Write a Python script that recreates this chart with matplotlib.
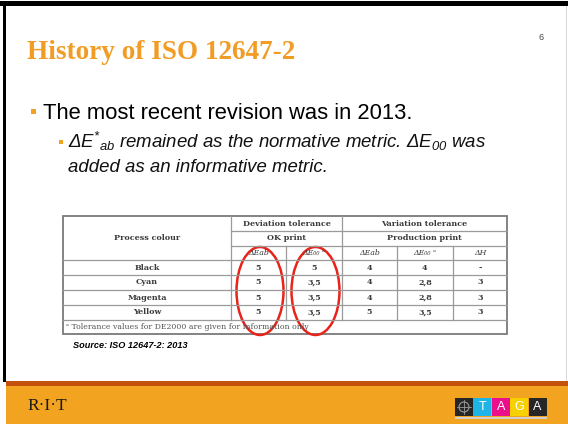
import matplotlib
matplotlib.use('Agg')
import matplotlib.pyplot as plt
from matplotlib.patches import Rectangle, Ellipse, Circle

# --- SLIDE CONTENT ---
TITLE = 'History of ISO 12647-2'
PAGE_NO = '6'
BULLET_MAIN = 'The most recent revision was in 2013.'
BULLET_SUB = [r'Δ$E{}^{*}{}_{ab}$ remained as the normative metric. Δ$E_{\mathit{00}}$ was',
              'added as an informative metric.']
SOURCE = 'Source: ISO 12647-2: 2013'

# --- TABLE DATA ---
process_colours = ['Black', 'Cyan', 'Magenta', 'Yellow']
dev_dEab = ['5', '5', '5', '5']
dev_dE00 = ['5', '3,5', '3,5', '3,5']
var_dEab = ['4', '4', '4', '5']
var_dE00 = ['4', '2,8', '2,8', '3,5']
var_dH = ['-', '3', '3', '3']
sub_headers = ['ΔEab', 'ΔE₀₀ ᵃ', 'ΔEab', 'ΔE₀₀ ᵃ', 'ΔH']
FOOTNOTE = 'ᵃ Tolerance values for DE2000 are given for information only'

ORANGE = '#f2a31f'
TITLE_ORANGE = '#f29c26'
DARK_ORANGE = '#c4520c'

plt.rcParams['mathtext.fontset'] = 'custom'
plt.rcParams['mathtext.it'] = 'Liberation Sans:italic'
plt.rcParams['mathtext.rm'] = 'Liberation Sans:italic'

fig = plt.figure(figsize=(5.68, 4.24), dpi=100)
ax = fig.add_axes([0, 0, 1, 1])
ax.set_xlim(0, 568)
ax.set_ylim(424, 0)
ax.axis('off')

# frame + footer
ax.add_patch(Rectangle((0, 1), 568, 5, color='black', lw=0))
ax.add_patch(Rectangle((3, 1), 3, 381, color='black', lw=0))
ax.add_patch(Rectangle((565.5, 6), 1, 376, color='#d8d8d8', lw=0))
ax.add_patch(Rectangle((6, 381), 562, 5, color=DARK_ORANGE, lw=0))
ax.add_patch(Rectangle((6, 386), 562, 38, color=ORANGE, lw=0))

# title and bullets
ax.text(27, 59, TITLE, family='Liberation Serif', weight='bold', fontsize=19.6,
        color=TITLE_ORANGE, va='baseline')
ax.text(541, 38, PAGE_NO, family='Liberation Sans', fontsize=6.5, color='#444444',
        ha='center', va='center')
ax.add_patch(Rectangle((31, 109), 5, 5, color=ORANGE, lw=0))
ax.text(43, 119, BULLET_MAIN, family='Liberation Sans', fontsize=15.8, color='black',
        va='baseline')
ax.add_patch(Rectangle((59, 140), 4, 4, color=ORANGE, lw=0))
for i, line in enumerate(BULLET_SUB):
    ax.text(68, 148 + 24 * i, line, family='Liberation Sans', style='italic',
            fontsize=13.4, color='#111111', va='baseline')

# table geometry
col_x = [63, 231, 286, 342, 397, 453, 507]
head_y = [216, 231, 246, 260]
row_h = 15
n_rows = len(process_colours)
body_bottom = head_y[-1] + row_h * n_rows
table_bottom = body_bottom + 14
line_c = '#9a9a9a'
txt_c = '#3a3a3a'
tfont = dict(family='DejaVu Serif', fontsize=5.8, color=txt_c, ha='center', va='center')

ax.add_patch(Rectangle((col_x[0], head_y[0]), col_x[-1] - col_x[0], table_bottom - head_y[0],
                       fill=False, ec='#7a7a7a', lw=1.3))
for y in head_y[1:3]:
    ax.plot([col_x[1], col_x[-1]], [y, y], color=line_c, lw=0.9)
for k in range(n_rows + 1):
    y = head_y[-1] + row_h * k
    ax.plot([col_x[0], col_x[-1]], [y, y], color=line_c, lw=0.9)
for x in (col_x[1], col_x[3]):
    ax.plot([x, x], [head_y[0], body_bottom], color=line_c, lw=0.9)
for x in (col_x[2], col_x[4], col_x[5]):
    ax.plot([x, x], [head_y[2], body_bottom], color=line_c, lw=0.9)

def mid(a, b):
    return (a + b) / 2

ax.text(mid(col_x[0], col_x[1]), mid(head_y[0], head_y[-1]), 'Process colour', weight='bold', **tfont)
ax.text(mid(col_x[1], col_x[3]), mid(head_y[0], head_y[1]), 'Deviation tolerance', weight='bold', **tfont)
ax.text(mid(col_x[3], col_x[6]), mid(head_y[0], head_y[1]), 'Variation tolerance', weight='bold', **tfont)
ax.text(mid(col_x[1], col_x[3]), mid(head_y[1], head_y[2]), 'OK print', weight='bold', **tfont)
ax.text(mid(col_x[3], col_x[6]), mid(head_y[1], head_y[2]), 'Production print', weight='bold', **tfont)
for j, h in enumerate(sub_headers):
    ax.text(mid(col_x[j + 1], col_x[j + 2]), mid(head_y[2], head_y[3]), h,
            family='DejaVu Serif', style='italic', fontsize=5.6, color=txt_c,
            ha='center', va='center')

columns = [process_colours, dev_dEab, dev_dE00, var_dEab, var_dE00, var_dH]
for j, col in enumerate(columns):
    for i, val in enumerate(col):
        y = head_y[-1] + row_h * (i + 0.5)
        ax.text(mid(col_x[j], col_x[j + 1]), y, val, weight='bold', **tfont)

ax.text(col_x[0] + 3, mid(body_bottom, table_bottom), FOOTNOTE, family='DejaVu Serif',
        fontsize=5.6, color='#555555', ha='left', va='center')

# red ellipses around deviation columns
for j in (1, 2):
    ax.add_patch(Ellipse((mid(col_x[j], col_x[j + 1]) + 1.5, 291), col_x[j + 1] - col_x[j] - 8, 88,
                         fill=False, ec='#e8231a', lw=1.8))

ax.text(73, 346, SOURCE, family=['Liberation Sans Narrow', 'Liberation Sans'], weight='bold',
        style='italic', fontsize=6.6, color='black', va='center')

# footer logos
ax.text(27, 406, 'R·I·T', family='Liberation Serif', fontsize=12.5, color='#1a1a1a', va='center')
logo_cols = ['#262626', '#1fb4e6', '#ec0f8c', '#f7d000', '#262626']
logo_txt = ['', 'T', 'A', 'G', 'A']
for k, (c, t) in enumerate(zip(logo_cols, logo_txt)):
    x0 = 455 + 18.4 * k
    ax.add_patch(Rectangle((x0, 398), 18, 18, color=c, lw=0))
    if t:
        ax.text(x0 + 9, 407.5, t, family='Liberation Sans', fontsize=9, color='white',
                ha='center', va='center')
ax.add_patch(Circle((464, 407), 5, fill=False, ec='#9a9a9a', lw=0.8))
ax.plot([457, 471], [407, 407], color='#9a9a9a', lw=0.6)
ax.plot([464, 464], [400, 414], color='#9a9a9a', lw=0.6)
ax.add_patch(Rectangle((455, 416.5), 92, 2, color='#cfcfcf', lw=0))

fig.savefig('out.png', dpi=100)
